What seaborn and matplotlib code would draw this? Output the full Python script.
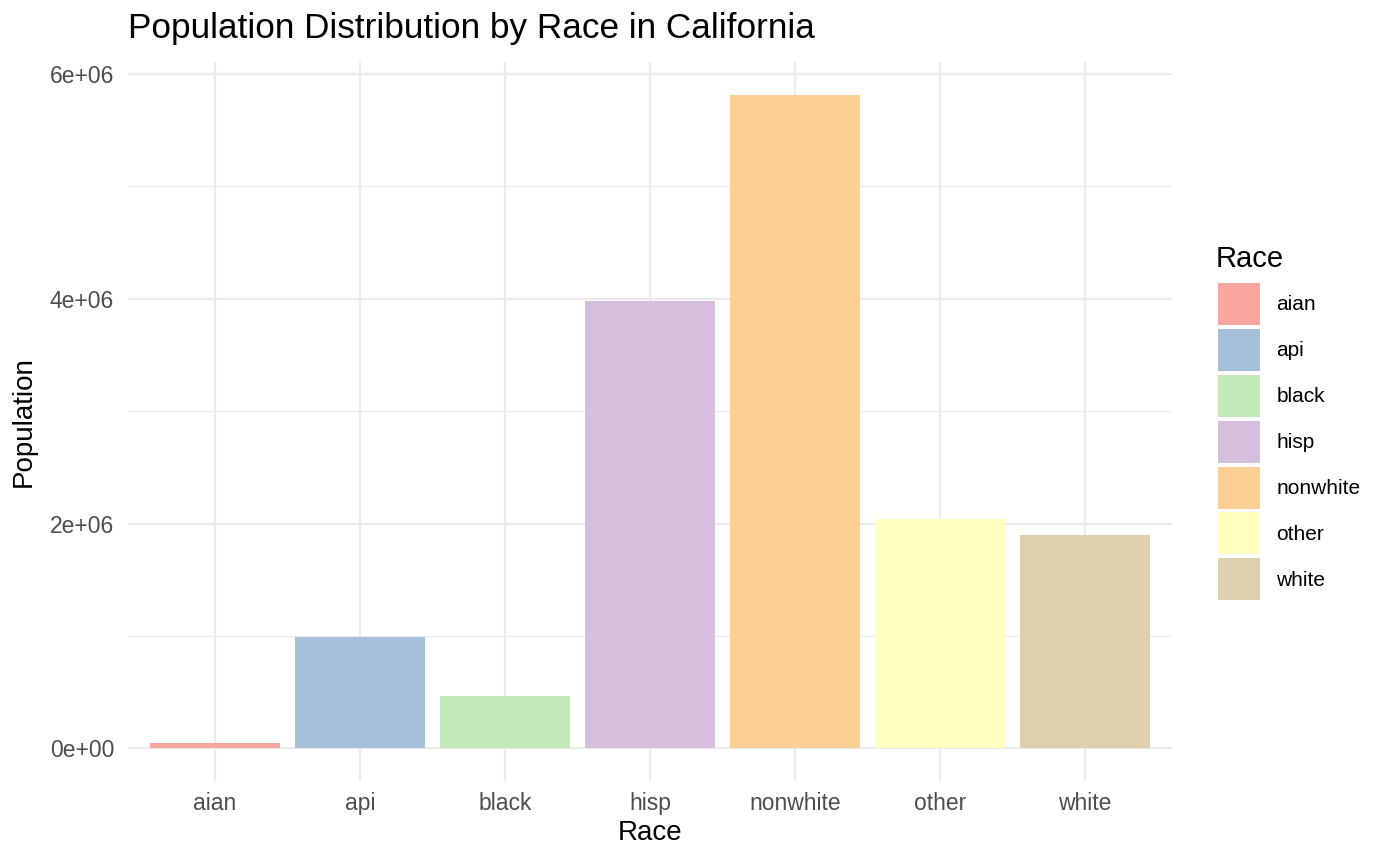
import pandas as pd
import matplotlib.pyplot as plt
import seaborn as sns
from matplotlib.patches import Patch
from matplotlib.ticker import MultipleLocator, FuncFormatter

# Data
races = ["aian", "api", "black", "hisp", "nonwhite", "other", "white"]
population = [50700, 991000, 466000, 3980000, 5815000, 2038000, 1902000]
bar_colors = ["#F8A5A0", "#A6C0DC", "#C3E8B9", "#D6BFDC", "#FCCF95", "#FFFFC0", "#DECFAE"]

df = pd.DataFrame({"Race": races, "Population": population})

sns.set_style("white")
plt.rcParams["font.family"] = ["Liberation Sans", "DejaVu Sans"]
plt.rcParams["text.color"] = "black"
plt.rcParams["axes.labelcolor"] = "black"

fig = plt.figure(figsize=(14, 8.65), dpi=100)
ax = fig.add_axes([128 / 1400, 1 - 781 / 865, 1044 / 1400, 719 / 865])

sns.barplot(data=df, x="Race", y="Population", hue="Race", palette=bar_colors,
            width=0.9, saturation=1, linewidth=0, legend=False, ax=ax)

# ggplot-like scales
ax.set_xlim(-0.6, len(races) - 0.4)
ymax = max(population)
ax.set_ylim(-0.05 * ymax, 1.05 * ymax)
ax.yaxis.set_major_locator(MultipleLocator(2e6))
ax.yaxis.set_minor_locator(MultipleLocator(1e6))
ax.yaxis.set_major_formatter(FuncFormatter(lambda v, pos: "%.0e" % v))

# theme_minimal look
for sp in ax.spines.values():
    sp.set_visible(False)
ax.set_axisbelow(True)
ax.grid(which="major", axis="both", color="#EBEBEB", linewidth=1.6)
ax.grid(which="minor", axis="y", color="#EBEBEB", linewidth=0.9)
ax.tick_params(which="both", length=0)
ax.tick_params(axis="y", labelsize=16.5, labelcolor="#4D4D4D", pad=10)
ax.tick_params(axis="x", labelsize=16.5, labelcolor="#4D4D4D", pad=8)

ax.set_xlabel("Race", fontsize=20)
ax.set_ylabel("Population", fontsize=20)
ax.xaxis.set_label_coords(0.5, -0.054)
ax.yaxis.set_label_coords(-0.087, 0.5)

fig.text(128 / 1400, 1 - 12 / 865, "Population Distribution by Race in California",
         fontsize=25.3, ha="left", va="top")

# legend: title drawn separately so the gap above the keys matches ggplot
fig.text(1216 / 1400, 1 - 267 / 865, "Race", fontsize=21, ha="left", va="baseline")
handles = [Patch(facecolor=c, edgecolor="none") for c in bar_colors]
leg = fig.legend(handles, races, loc="upper left",
                 bbox_to_anchor=(1218 / 1400, 1 - 283 / 865), frameon=False,
                 fontsize=15, handlelength=2.0, handleheight=2.72,
                 labelspacing=0.19, handletextpad=0.8,
                 borderpad=0, borderaxespad=0)

fig.savefig("out.png", dpi=100)
plt.close()
